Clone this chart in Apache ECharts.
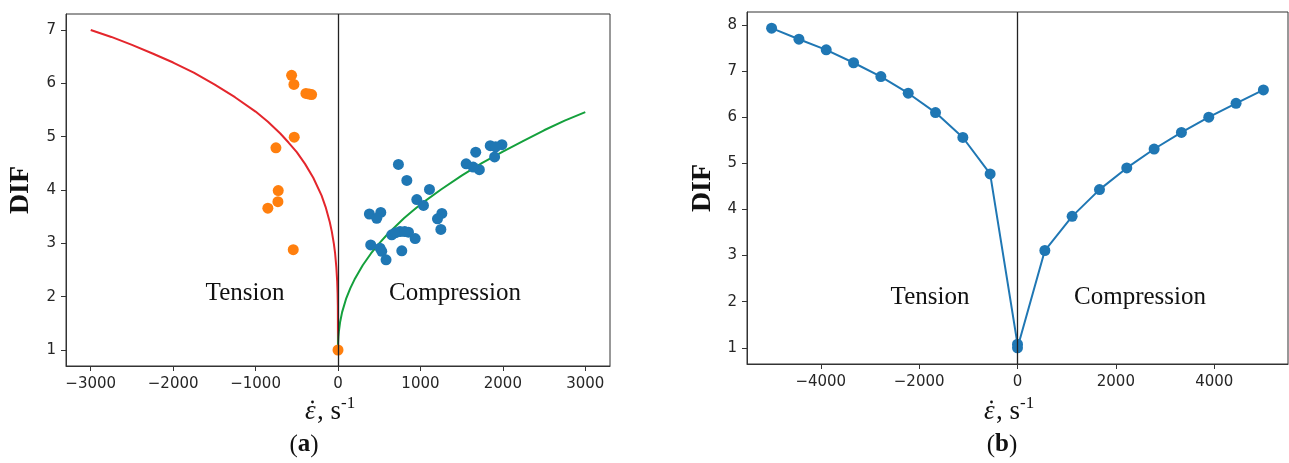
<!DOCTYPE html>
<html>
<head>
<meta charset="utf-8">
<script src="https://cdn.jsdelivr.net/npm/echarts@6/dist/echarts.min.js"></script>
<style>
html, body { margin: 0; padding: 0; background: #fff; }
#chart { width: 1289px; height: 463px; }
</style>
</head>
<body>
<div id="chart"></div>
<script>
// panel (a): fitted curves
const redX = [-3000, -2750, -2500, -2250, -2000, -1750, -1500, -1250, -1000, -850, -700, -600, -500, -400, -300, -200, -150, -100, -75, -50, -35, -20, -10, -5, -2, 0]
const redY = [7.0, 6.87, 6.72, 6.56, 6.39, 6.20, 5.98, 5.74, 5.47, 5.28, 5.06, 4.89, 4.71, 4.49, 4.23, 3.9, 3.68, 3.4, 3.22, 2.99, 2.81, 2.55, 2.29, 2.07, 1.83, 1.0]
const greenX = [0, 2, 5, 10, 25, 50, 100, 150, 200, 300, 400, 500, 600, 700, 800, 900, 1000, 1250, 1500, 1750, 2000, 2250, 2500, 2750, 3000]
const greenY = [1.0, 1.16, 1.25, 1.34, 1.52, 1.71, 1.97, 2.16, 2.32, 2.59, 2.81, 3.0, 3.17, 3.32, 3.47, 3.60, 3.73, 4.01, 4.27, 4.51, 4.72, 4.92, 5.12, 5.30, 5.46]

// panel (a): test points
const tensionX = [-563, -535, -389, -350, -320, -531, -753, -725, -729, -851, -543, 0]
const tensionY = [6.15, 5.98, 5.81, 5.80, 5.79, 4.99, 4.79, 3.99, 3.78, 3.66, 2.88, 1.0]
const compX = [733, 835, 1110, 956, 1037, 381, 519, 470, 1260, 1207, 1248, 652, 753, 855, 936, 397, 510, 531, 774, 583,
  1555, 1671, 1715, 1640, 1847, 1989, 1913, 1900, 700, 810]
const compY = [4.48, 4.18, 4.01, 3.82, 3.71, 3.55, 3.58, 3.47, 3.56, 3.46, 3.26, 3.16, 3.22, 3.21, 3.09, 2.97, 2.91, 2.85, 2.86, 2.69,
  4.49, 4.71, 4.38, 4.43, 4.83, 4.85, 4.81, 4.62, 3.2, 3.22]

// panel (b)
const rateB = [-5000, -4444, -3889, -3333, -2778, -2222, -1667, -1111, -556, 0, 0, 556, 1111, 1667, 2222, 2778, 3333, 3889, 4444, 5000]
const difB = [7.93, 7.69, 7.46, 7.18, 6.88, 6.52, 6.10, 5.56, 4.77, 1.08, 1.0, 3.11, 3.85, 4.43, 4.90, 5.31, 5.67, 6.00, 6.30, 6.59]

const ticksA_x = [-3000, -2000, -1000, 0, 1000, 2000, 3000]
const ticksA_y = [1, 2, 3, 4, 5, 6, 7]
const ticksB_x = [-4000, -2000, 0, 2000, 4000]
const ticksB_y = [1, 2, 3, 4, 5, 6, 7, 8]

const zip = (xs, ys) => xs.map((x, i) => [x, ys[i]])

const tickFont = { fontFamily: 'DejaVu Sans', fontSize: 15, color: '#262626' }
const serif = 'Liberation Serif'
const axisColor = '#333'
const ink = '#111'

const mkX = (idx, min, max, ticks) => ({
  type: 'value', gridIndex: idx, min, max,
  splitLine: { show: false },
  axisLine: { onZero: false, lineStyle: { color: axisColor } },
  axisTick: { customValues: ticks, length: 5, lineStyle: { color: axisColor } },
  axisLabel: Object.assign({ customValues: ticks, margin: 11,
    formatter: v => String(v).replace('-', '\u2212') }, tickFont)
})

const mkY = (idx, min, max, ticks, gap) => ({
  type: 'value', gridIndex: idx, min, max,
  name: 'DIF', nameLocation: 'middle', nameGap: gap,
  nameTextStyle: { fontFamily: serif, fontSize: 28, fontWeight: 'bold', color: ink },
  splitLine: { show: false },
  axisLine: { onZero: false, lineStyle: { color: axisColor } },
  axisTick: { customValues: ticks, length: 5, lineStyle: { color: axisColor } },
  axisLabel: Object.assign({ customValues: ticks, margin: 10 }, tickFont)
})

const zeroLine = {
  silent: true, symbol: 'none', label: { show: false },
  lineStyle: { color: '#222', width: 1.3, type: 'solid' },
  data: [{ xAxis: 0 }]
}

// x-axis title: epsilon with a dot, ", s" and superscript -1
const rateTitle = (x0) => ({
  type: 'group', x: x0, y: 412, silent: true,
  children: [
    { type: 'text', x: 0, y: 0, style: { text: 'ε', fontFamily: serif, fontStyle: 'italic', fontSize: 27, fill: ink, verticalAlign: 'middle' } },
    { type: 'circle', shape: { cx: 7.5, cy: -10, r: 1.4 }, style: { fill: ink } },
    { type: 'text', x: 12, y: 0, style: { text: ', s', fontFamily: serif, fontSize: 27, fill: ink, verticalAlign: 'middle' } },
    { type: 'text', x: 36, y: -8, style: { text: '-1', fontFamily: serif, fontSize: 17, fill: ink, verticalAlign: 'middle' } }
  ]
})

const panelText = (text, x, y) => ({
  type: 'text', x, y, silent: true,
  style: { text, fontFamily: serif, fontSize: 25, fill: ink, align: 'center', verticalAlign: 'middle' }
})

const caption = (letter, x) => ({
  type: 'text', x, y: 445, silent: true,
  style: {
    text: '{p|(}{b|' + letter + '}{p|)}', align: 'center', verticalAlign: 'middle',
    rich: {
      p: { fontFamily: serif, fontSize: 25, fill: ink },
      b: { fontFamily: serif, fontSize: 25, fontWeight: 'bold', fill: ink }
    }
  }
})

const chart = echarts.init(document.getElementById('chart'))
window.addEventListener('resize', () => chart.resize())

chart.setOption({
  animation: false,
  backgroundColor: '#fff',
  grid: [
    { left: 66, right: 679, top: 14, bottom: 97, show: true, borderColor: axisColor, borderWidth: 1 },
    { left: 747, right: 1, top: 12, bottom: 99, show: true, borderColor: axisColor, borderWidth: 1 }
  ],
  xAxis: [mkX(0, -3300, 3300, ticksA_x), mkX(1, -5500, 5500, ticksB_x)],
  yAxis: [mkY(0, 0.7, 7.3, ticksA_y, 31), mkY(1, 0.65, 8.28, ticksB_y, 30)],
  graphic: [
    panelText('Tension', 245, 293),
    panelText('Compression', 455, 293),
    panelText('Tension', 930, 297),
    panelText('Compression', 1140, 297),
    rateTitle(305),
    rateTitle(984),
    caption('a', 304),
    caption('b', 1002)
  ],
  series: [
    {
      type: 'line', xAxisIndex: 0, yAxisIndex: 0, data: zip(redX, redY),
      showSymbol: false, lineStyle: { color: '#e4262c', width: 2 }, z: 2,
      markLine: zeroLine
    },
    {
      type: 'line', xAxisIndex: 0, yAxisIndex: 0, data: zip(greenX, greenY),
      showSymbol: false, lineStyle: { color: '#14a03c', width: 2 }, z: 2
    },
    {
      type: 'scatter', xAxisIndex: 0, yAxisIndex: 0, data: zip(tensionX, tensionY),
      symbolSize: 11, itemStyle: { color: '#ff7f0e', opacity: 1 }, z: 3
    },
    {
      type: 'scatter', xAxisIndex: 0, yAxisIndex: 0, data: zip(compX, compY),
      symbolSize: 11, itemStyle: { color: '#1f77b4', opacity: 1 }, z: 3
    },
    {
      type: 'line', xAxisIndex: 1, yAxisIndex: 1, data: zip(rateB, difB),
      symbol: 'circle', symbolSize: 11, showAllSymbol: true,
      lineStyle: { color: '#1f77b4', width: 2 }, itemStyle: { color: '#1f77b4' },
      markLine: zeroLine, z: 3
    }
  ]
})
</script>
</body>
</html>
